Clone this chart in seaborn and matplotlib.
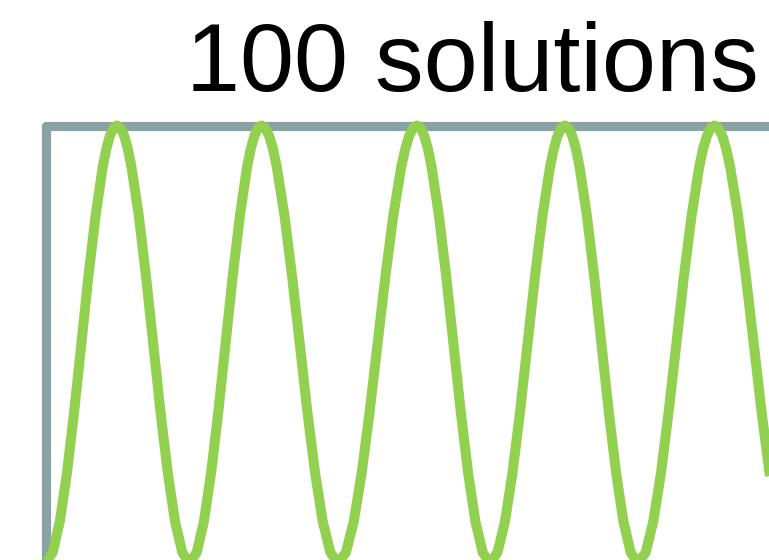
import numpy as np
import pandas as pd
import matplotlib.pyplot as plt
import seaborn as sns

# height of the curve along one arch (trough -> peak -> trough), 0 = bottom, 1 = top
arch_y = [0, .024, .095, .206, .345, .5, .655, .794, .905, .946, .976, .994, 1,
          .994, .976, .946, .905, .794, .655, .5, .345, .206, .095, .024, 0]

# x positions for each arch
arch_x = [
    [0, .072, .143, .215, .286, .358, .429, .501, .572, .608, .644, .679, .715,
     .751, .788, .824, .86, .933, 1.005, 1.078, 1.15, 1.223, 1.295, 1.368, 1.44],
    [1.44, 1.512, 1.584, 1.656, 1.728, 1.80, 1.872, 1.944, 2.016, 2.052, 2.088, 2.124, 2.16,
     2.198, 2.237, 2.275, 2.313, 2.39, 2.466, 2.543, 2.619, 2.696, 2.772, 2.849, 2.925],
    [2.925, 3.004, 3.083, 3.162, 3.241, 3.32, 3.399, 3.478, 3.557, 3.597, 3.636, 3.676, 3.715,
     3.752, 3.788, 3.825, 3.861, 3.934, 4.007, 4.08, 4.153, 4.226, 4.299, 4.372, 4.445],
    [4.445, 4.52, 4.595, 4.67, 4.745, 4.82, 4.895, 4.97, 5.045, 5.083, 5.12, 5.158, 5.195,
     5.232, 5.268, 5.305, 5.341, 5.414, 5.487, 5.56, 5.633, 5.706, 5.779, 5.852, 5.925],
    [5.925, 6.002, 6.078, 6.155, 6.231, 6.308, 6.384, 6.461, 6.537, 6.575, 6.614, 6.652, 6.69,
     6.729, 6.769, 6.808, 6.847, 6.926, 7.004, 7.083, 7.161, 7.24, 7.318, 7.397, 7.475],
]

title = '100 solutions'
green = '#92d050'
frame = '#89a3a5'

df = pd.concat([pd.DataFrame({'x': xs, 'y': arch_y, 'arch': i})
                for i, xs in enumerate(arch_x)], ignore_index=True)

sns.set_style('white')
plt.rcParams['font.family'] = ['Liberation Sans', 'DejaVu Sans']

fig = plt.figure(figsize=(7.69, 5.60), dpi=100)
# the frame runs past the right and bottom edges of the picture
ax = fig.add_axes([45.5 / 769, -3 / 560, 800 / 769, 437.5 / 560])

sns.lineplot(data=df, x='x', y='y', units='arch', estimator=None, color=green,
             lw=7.2, ax=ax, zorder=3, clip_on=False, solid_capstyle='butt')

ax.set_xlim(0, 8)
ax.set_ylim(0, 1)
ax.set_xticks([])
ax.set_yticks([])
ax.set_xlabel('')
ax.set_ylabel('')
for s in ax.spines.values():
    s.set_visible(True)
    s.set_color(frame)
    s.set_linewidth(6.6)
    s.set_capstyle('round')

fig.text(186 / 769, (560 - 91) / 560, title, fontsize=70, ha='left',
         va='baseline', color='black')

fig.savefig('out.png', dpi=100)
